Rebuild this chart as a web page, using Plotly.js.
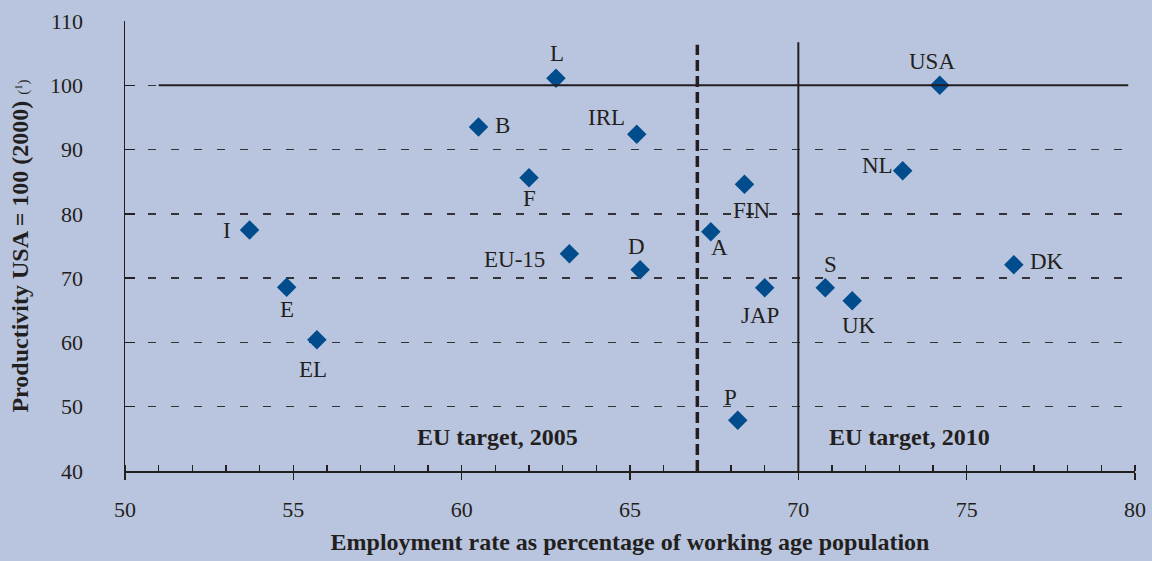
<!DOCTYPE html>
<html>
<head>
<meta charset="utf-8">
<script src="https://cdn.plot.ly/plotly-3.0.1.min.js"></script>
<style>
html,body{margin:0;padding:0;background:#B9C5DE;}
#chart{width:1152px;height:561px;}
</style>
</head>
<body>
<div id="chart"></div>
<script>
// Data
const countries = ['L','USA','B','IRL','F','FIN','NL','I','EU-15','D','A','DK','E','JAP','S','UK','EL','P'];
const employmentRate = [62.8,74.2,60.5,65.2,62.0,68.4,73.1,53.7,63.2,65.3,67.4,76.4,54.8,69.0,70.8,71.6,55.7,68.2];
const productivity = [101.1,100.0,93.5,92.4,85.6,84.6,86.7,77.5,73.8,71.3,77.2,72.1,68.6,68.5,68.5,66.5,60.4,47.9];
const xTicks = [50,55,60,65,70,75,80];
const yTicks = [40,50,60,70,80,90,100,110];
const target2005 = 67;
const target2010 = 70;
const usaLevel = 100;

// Label placement (pixel offsets of each country label from its marker: [dx, dy], dy downward)
const labelOffsets = [[1,-25],[-8,-24],[24,-2],[-30,-17],[0,21],[7,26],[-25,-5],[-23,1],[-55,6],[-4,-23],[9,16],[33,-3],[0,22],[-5,28],[5,-23],[7,25],[-4,30],[-7,-23]];

const serif = '"Liberation Serif", "Times New Roman", serif';
const ink = '#231F20';
const bg = '#B9C5DE';

const trace = {
  type: 'scatter',
  mode: 'markers',
  x: employmentRate,
  y: productivity,
  text: countries,
  marker: {symbol: 'diamond', size: 15, color: '#004C8C'},
  cliponaxis: false,
  hoverinfo: 'x+y+text'
};

const labelAnnotations = countries.map((c, i) => ({
  xref: 'x', yref: 'y', x: employmentRate[i], y: productivity[i],
  text: c, showarrow: false, xanchor: 'center', yanchor: 'middle',
  xshift: labelOffsets[i][0], yshift: -labelOffsets[i][1],
  font: {family: serif, size: 23, color: ink}
}));

const layout = {
  width: 1152, height: 561,
  paper_bgcolor: bg, plot_bgcolor: bg,
  margin: {l: 125, r: 17, t: 21, b: 90},
  showlegend: false,
  font: {family: serif, color: ink},
  xaxis: {
    range: [50, 80],
    tickvals: xTicks,
    ticks: 'outside', ticklen: 7, tickwidth: 1.5, tickcolor: ink,
    minor: {dtick: 1, ticks: 'inside', ticklen: 6, tickwidth: 1.2, tickcolor: ink, showgrid: false},
    showline: true, linecolor: ink, linewidth: 1.5,
    showgrid: false, zeroline: false,
    tickfont: {family: serif, size: 22, color: ink},
    ticklabelstandoff: 11,
    title: {text: '<b>Employment rate as percentage of working age population</b>', font: {family: serif, size: 24, color: ink}, standoff: 12}
  },
  yaxis: {
    range: [40, 110],
    tickvals: yTicks,
    ticks: 'inside', ticklen: 10, tickwidth: 1.5, tickcolor: ink,
    showline: true, linecolor: ink, linewidth: 1.5,
    showgrid: true, gridcolor: '#333333', gridwidth: 1.3, griddash: '8px,15px',
    zeroline: false,
    tickfont: {family: serif, size: 22, color: ink},
    ticklabelstandoff: 36,
    title: {text: '<b>Productivity USA = 100 (2000)</b> <span style="font-size:15px">(<sup>1</sup>)</span>', font: {family: serif, size: 24, color: ink}, standoff: 14}
  },
  shapes: [
    {type: 'line', xref: 'x', yref: 'y', x0: 51, x1: 79.8, y0: usaLevel, y1: usaLevel, line: {color: ink, width: 2}},
    {type: 'line', xref: 'x', yref: 'y', x0: target2005, x1: target2005, y0: 40, y1: 106.3, line: {color: ink, width: 3.5, dash: '11px,5px'}},
    {type: 'line', xref: 'x', yref: 'y', x0: target2010, x1: target2010, y0: 40, y1: 106.7, line: {color: ink, width: 2}}
  ],
  annotations: labelAnnotations.concat([
    {xref: 'x', yref: 'y', x: 61.05, y: 45.3, text: '<b>EU target, 2005</b>', showarrow: false, font: {family: serif, size: 24, color: ink}, xanchor: 'center', yanchor: 'middle'},
    {xref: 'x', yref: 'y', x: 73.3, y: 45.3, text: '<b>EU target, 2010</b>', showarrow: false, font: {family: serif, size: 24, color: ink}, xanchor: 'center', yanchor: 'middle'}
  ])
};

Plotly.newPlot('chart', [trace], layout, {displayModeBar: false, staticPlot: true});
</script>
</body>
</html>
